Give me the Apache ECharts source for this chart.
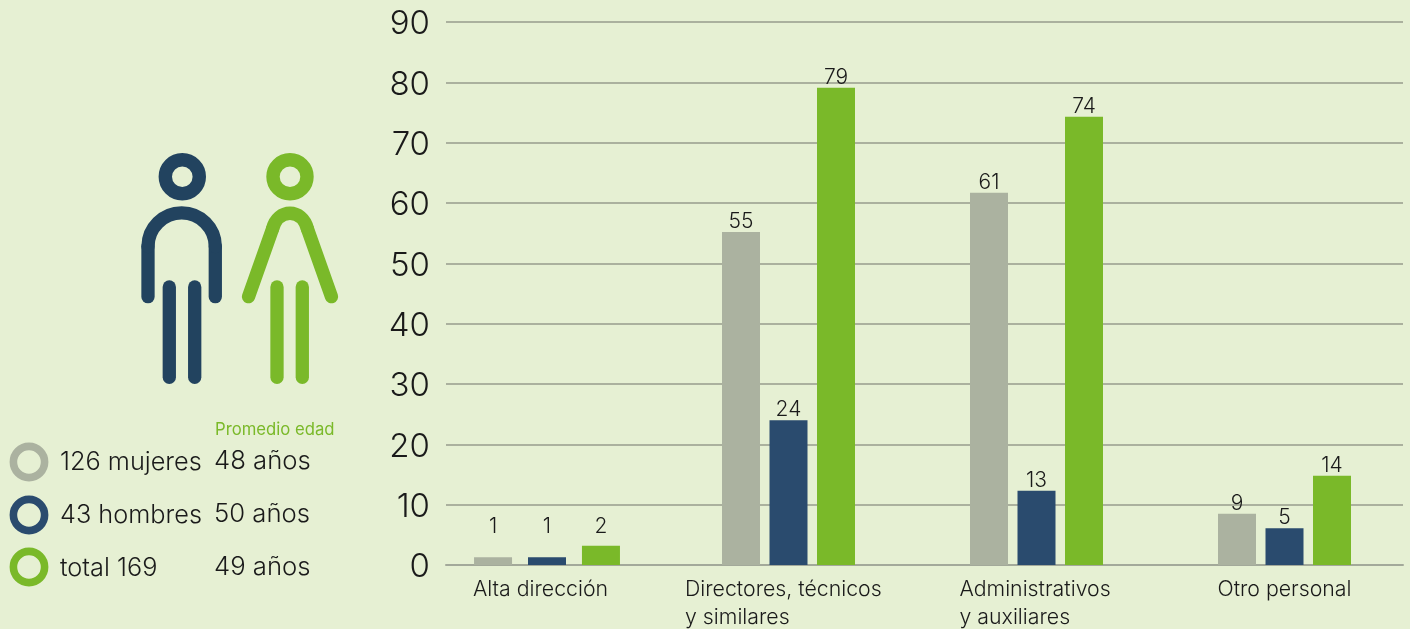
<!DOCTYPE html>
<html><head><meta charset="utf-8">
<style>html,body{margin:0;padding:0;background:#E6F0D3}#c{width:1410px;height:629px}</style>
<script src="https://cdn.jsdelivr.net/npm/echarts@6/dist/echarts.min.js"></script>
</head><body><div id="c"></div>
<script>
const categories = ['Alta dirección','Directores, técnicos\ny similares','Administrativos\ny auxiliares','Otro personal'];
const mujeresValues = [1.3, 55.2, 61.7, 8.5];
const hombresValues = [1.3, 24, 12.3, 6.1];
const totalValues = [3.2, 79.1, 74.3, 14.8];
const mujeresLabels = [1, 55, 61, 9];
const hombresLabels = [1, 24, 13, 5];
const totalLabels = [2, 79, 74, 14];
const legendRows = ['126 mujeres','43 hombres','total 169'];
const ageRows = ['48 años','50 años','49 años'];
const ageTitle = 'Promedio edad';

const FONT = 'Inter', GREY='#ABB2A0', BLUE='#2A4B6E', GREEN='#7AB929', ICONBLUE='#22435F', INK='#1a1a1a';
const TOP=22, H=543, CATSIZE=21.3;
const valueAxis = (i, labels, lines) => ({gridIndex:i,type:'value',min:0,max:90,interval:10,
  axisLine:{show:false},axisTick:{show:false},
  axisLabel:{show:labels,fontFamily:FONT,fontWeight:300,fontSize:33,color:INK,margin:16},
  splitLine:{show:lines,lineStyle:{color:'#979D8D',width:1.5}}});
const catAxis = (i, labels) => ({gridIndex:i,type:'category',data:categories,axisLine:{show:false},axisTick:{show:false},
  axisLabel:{show:labels,interval:0,margin:11,fontFamily:FONT,fontWeight:300,color:INK,fontSize:CATSIZE,lineHeight:28,
    formatter:(v)=>{const p=v.split('\n');if(p.length<2)return p[0];
      const k=p[0].startsWith('Dir')?'d':'a';return p.map(t=>'{'+k+'|'+t+'}').join('\n');},
    rich:{d:{width:197,align:'left',padding:[0,10,0,0],fontFamily:FONT,fontWeight:300,fontSize:CATSIZE,lineHeight:28,color:INK},
          a:{width:154,align:'left',fontFamily:FONT,fontWeight:300,fontSize:CATSIZE,lineHeight:28,color:INK}}}});
const barLabel = (labels, dist) => ({show:true,position:'top',distance:dist,fontFamily:FONT,fontWeight:300,fontSize:21,color:INK,
  formatter:(p)=>String(labels[p.dataIndex])});
const pick = (arr, idx) => arr.map((v,i)=>idx.includes(i)?v:null);
const main=[1,2,3], first=[0];
const mk = (name,vals,labs,color,grid,idx,dist,gap) => ({name,type:'bar',xAxisIndex:grid,yAxisIndex:grid,barWidth:38,barGap:gap,
  data:pick(vals,idx),itemStyle:{color},label:barLabel(labs,dist),z:3});

const stroke = (c) => ({fill:'none',stroke:c,lineWidth:13.3,lineCap:'round',lineJoin:'round'});
const L = (x1,y1,x2,y2,c) => ({type:'line',shape:{x1,y1,x2,y2},style:stroke(c),z:5});
const ring = (x,y,r,w,c) => ({type:'circle',shape:{cx:x,cy:y,r},style:{fill:'none',stroke:c,lineWidth:w},z:5});
const txt = (x,y,t,size,c,weight) => ({type:'text',x,y,style:{text:t,fontFamily:FONT,fontWeight:weight||300,fontSize:size,fill:c,verticalAlign:'middle'},z:5});
const rowsY=[461,514,567], ringC=[GREY,BLUE,GREEN];
const graphics=[
  ring(182.3,176.7,17,13.4,ICONBLUE),
  L(148,296.7,148,246.5,ICONBLUE),
  L(215.3,296.7,215.3,246.5,ICONBLUE),
  {type:'arc',shape:{cx:181.65,cy:246.5,r:33.65,startAngle:Math.PI,endAngle:2*Math.PI,clockwise:true},style:stroke(ICONBLUE),z:5},
  L(169.3,287,169.3,377.3,ICONBLUE),L(194.7,287,194.7,377.3,ICONBLUE),
  ring(290,176.7,17,13.4,GREEN),
  L(248.5,296.7,272.5,229,GREEN),
  L(331.5,296.7,307.5,229,GREEN),
  {type:'bezierCurve',shape:{x1:272.5,y1:229,cpx1:278,cpy1:208,cpx2:302,cpy2:208,x2:307.5,y2:229},style:stroke(GREEN),z:5},
  L(277,287,277,377.3,GREEN),L(302.3,287,302.3,377.3,GREEN),
  txt(215,430,ageTitle,16.7,GREEN,400),
];
legendRows.forEach((t,i)=>{
  graphics.push(ring(29,rowsY[i]+(i==2?0:1),15.6,7.6,ringC[i]));
  graphics.push(txt(60,rowsY[i]+1,t,25.3,INK));
  graphics.push(txt(214,rowsY[i],ageRows[i],25.7,INK));
});

const hiddenX = (i) => ({gridIndex:i,type:'category',data:[],axisLine:{show:false},axisTick:{show:false},axisLabel:{show:false}});
const chart=echarts.init(document.getElementById('c'),null,{renderer:'canvas'});
chart.setOption({
  animation:false,backgroundColor:'#E6F0D3',
  grid:[
    {left:446,top:TOP,width:957,height:H,outerBoundsMode:'none'},
    {left:416.5,top:TOP,width:992,height:H,outerBoundsMode:'none'},
    {left:423,top:TOP,width:992,height:H,outerBoundsMode:'none'},
    {left:446,top:TOP+2.5,width:957,height:H,outerBoundsMode:'none'}
  ],
  xAxis:[
    {gridIndex:0,type:'category',data:[],axisLine:{show:true,lineStyle:{color:'#A3A99A',width:2}},axisTick:{show:false},axisLabel:{show:false}},
    catAxis(1,true),catAxis(2,false),hiddenX(3)
  ],
  yAxis:[valueAxis(0,false,true),valueAxis(1,false,false),valueAxis(2,false,false),valueAxis(3,true,false)],
  series:[
    mk('mujeres',mujeresValues,mujeresLabels,GREY,1,main,0,'25%'),
    mk('hombres',hombresValues,hombresLabels,BLUE,1,main,0,'25%'),
    mk('total',totalValues,totalLabels,GREEN,1,main,0,'25%'),
    mk('mujeres',mujeresValues,mujeresLabels,GREY,2,first,20,'42%'),
    mk('hombres',hombresValues,hombresLabels,BLUE,2,first,20,'42%'),
    mk('total',totalValues,totalLabels,GREEN,2,first,9,'42%')
  ],
  graphic:{elements:graphics}
});
</script></body></html>
